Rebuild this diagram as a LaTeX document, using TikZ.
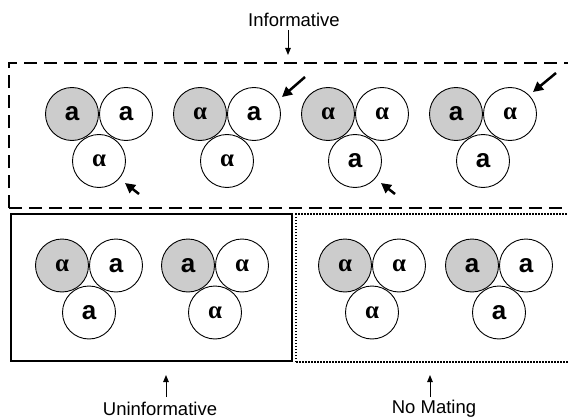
\documentclass[tikz,border=0pt]{standalone}
\usepackage{fontspec}
\setmainfont{Liberation Sans}
\newfontfamily\alfont{Liberation Serif}
\usetikzlibrary{arrows.meta}
\newcommand\ltrA{{\fontsize{26}{26}\selectfont\bfseries a}}
\newcommand\ltrAl{{\alfont\fontsize{25}{25}\selectfont\bfseries α}}
\newcommand\trio[6]{%
  \node[shd] (#1s) at (#2,#3) {#4};
  \node[crc] (#1r) at ({#2+54},#3) {#5};
  \node[crc] (#1b) at ({#2+27},{#3+47}) {#6};}
\tikzset{
  crc/.style={circle,draw,line width=0.9pt,minimum size=53pt,inner sep=0pt},
  shd/.style={crc,fill=black!20},
  bigarr/.style={line width=2.5pt,-{Triangle[length=10pt,width=10pt]}},
  lblarr/.style={line width=0.9pt,-{Triangle[length=7pt,width=5.5pt]}},
  lbl/.style={font=\fontsize{18.5}{18.5}\selectfont,inner sep=0pt}
}
\begin{document}
\begin{tikzpicture}[x=1pt,y=-1pt]
\useasboundingbox (0,0) rectangle (568,420);
% boxes
\draw[line width=2pt,dash pattern=on 13pt off 7pt] (9,208) -- (9,63) -- (600,63);
\draw[line width=2pt,dash pattern=on 13pt off 7pt] (9,208) -- (600,208);
\draw[line width=2pt] (11,214) rectangle (292,361);
\draw[line width=2pt,dash pattern=on 1.5pt off 1.5pt] (296,362) -- (296,214) -- (600,214);
\draw[line width=2pt,dash pattern=on 1.5pt off 1.5pt] (296,362) -- (600,362);
% top row
\trio{ga}{72}{114}{\ltrA}{\ltrA}{\ltrAl}
\trio{gb}{200}{114}{\ltrAl}{\ltrA}{\ltrAl}
\trio{gc}{328}{114}{\ltrAl}{\ltrAl}{\ltrA}
\trio{gd}{456}{114}{\ltrA}{\ltrAl}{\ltrA}
% bottom row
\trio{ge}{62}{265.5}{\ltrAl}{\ltrA}{\ltrA}
\trio{gf}{188}{265.5}{\ltrA}{\ltrAl}{\ltrAl}
\trio{gg}{345}{265.5}{\ltrAl}{\ltrAl}{\ltrAl}
\trio{gh}{472}{265.5}{\ltrA}{\ltrA}{\ltrA}
% bold arrows
\coordinate (ta) at (139,194); \coordinate (ha) at (125,183);
\coordinate (tb) at (305,77);  \coordinate (hb) at (282,97);
\coordinate (tc) at (395,194); \coordinate (hc) at (381,183);
\coordinate (td) at (556,73);  \coordinate (hd) at (533,92);
\draw[bigarr] (ta) -- (ha);
\draw[bigarr] (tb) -- (hb);
\draw[bigarr] (tc) -- (hc);
\draw[bigarr] (td) -- (hd);
% labels
\node[lbl] (inf) at (294,20) {Informative};
\node[lbl] (uninf) at (160,409) {Uninformative};
\node[lbl] (nomat) at (434,409) {No Mating};
\coordinate (infs) at (288,30); \coordinate (infe) at (288,55);
\coordinate (uns) at (166,397); \coordinate (une) at (166,375);
\coordinate (nms) at (430,397); \coordinate (nme) at (430,375);
\draw[lblarr] (infs) -- (infe);
\draw[lblarr] (uns) -- (une);
\draw[lblarr] (nms) -- (nme);
\end{tikzpicture}
\end{document}
